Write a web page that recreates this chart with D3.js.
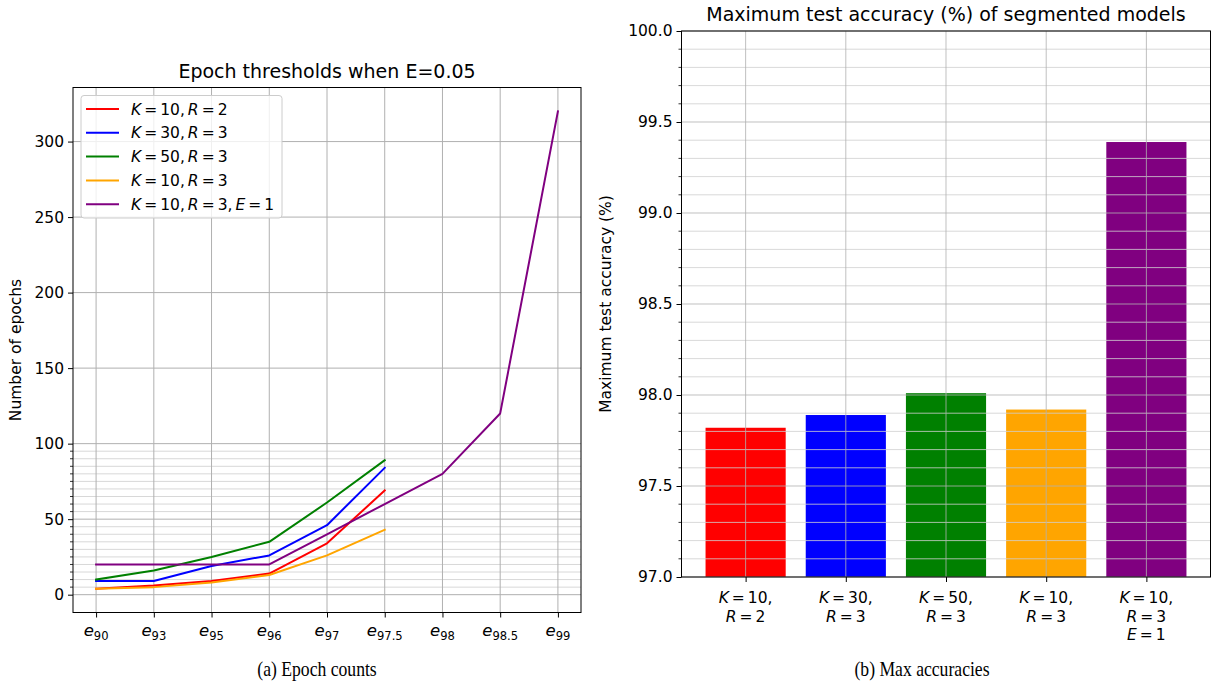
<!DOCTYPE html>
<html>
<head>
<meta charset="utf-8">
<script src="https://cdn.jsdelivr.net/npm/d3@7"></script>
<style>
  html, body { margin: 0; padding: 0; background: #fff; }
  svg { display: block; }
  text { font-family: "DejaVu Sans", sans-serif; fill: #000; }
</style>
</head>
<body>
<svg id="fig" width="1217" height="688"></svg>
<script>
// ---- data ----------------------------------------------------------------
const thresholds = ["90", "93", "95", "96", "97", "97.5", "98", "98.5", "99"];

const seriesNames  = ["K=10,R=2", "K=30,R=3", "K=50,R=3", "K=10,R=3", "K=10,R=3,E=1"];
const seriesColors = ["#ff0000", "#0000ff", "#008000", "#ffa500", "#800080"];

// epochs needed to reach each accuracy threshold
const epochsK10R2   = [4, 6, 9, 14, 34, 69];
const epochsK30R3   = [9, 9, 19, 26, 46, 84];
const epochsK50R3   = [10, 16, 25, 35, 61, 89];
const epochsK10R3   = [4, 5, 8, 13, 26, 43];
const epochsK10R3E1 = [20, 20, 20, 20, 40, 60, 80, 120, 320];
const epochSeries = [epochsK10R2, epochsK30R3, epochsK50R3, epochsK10R3, epochsK10R3E1];

const epochTicks = [0, 50, 100, 150, 200, 250, 300];
const epochMinorTicks = d3.range(5, 100, 5).filter(v => v % 50 !== 0);

// maximum test accuracy (%) per model
const modelLabels = [["K=10,", "R=2"], ["K=30,", "R=3"], ["K=50,", "R=3"], ["K=10,", "R=3"], ["K=10,", "R=3", "E=1"]];
const maxAccuracy = [97.82, 97.89, 98.01, 97.92, 99.39];

const accTicks = [97.0, 97.5, 98.0, 98.5, 99.0, 99.5, 100.0];
const accMinorTicks = d3.range(97.1, 100.0, 0.1).map(v => +v.toFixed(1)).filter(v => Math.abs(v * 2 - Math.round(v * 2)) > 1e-6);

// ---- styling ---------------------------------------------------------------
const FS = 15.5;          // tick / label font size
const TITLE_FS = 19;
const CAP_FS = 21.5;
const CAP_SX = 0.82;      // captions are set in a narrow serif
const MAJOR_GRID = "#b0b0b0";
const MINOR_GRID = "#d8d8d8";

const svg = d3.select("#fig");

// mathtext-like label: letters italic, spacing around "=" and after ","
function mathText(sel, s, gap) {
  let pending = 0;
  for (const c of s) {
    const t = sel.append("tspan").text(c);
    if (/[A-Za-z]/.test(c)) t.attr("font-style", "italic");
    const dx = pending + (c === "=" ? gap : 0);
    if (dx) t.attr("dx", dx);
    pending = (c === "=" || c === ",") ? gap : 0;
  }
  return sel;
}

// ---- (a) epoch thresholds --------------------------------------------------
const A = { x0: 73, x1: 581, y0: 87.5, y1: 612.5 };
const xA = d3.scaleLinear().domain([-0.4, thresholds.length - 1 + 0.4]).range([A.x0, A.x1]);
const yA = d3.scaleLinear().domain([-11.8, 335.8]).range([A.y1, A.y0]);

const gA = svg.append("g");

// grid
gA.append("g").selectAll("line").data(epochMinorTicks).join("line")
  .attr("x1", A.x0).attr("x2", A.x1)
  .attr("y1", d => yA(d)).attr("y2", d => yA(d))
  .attr("stroke", MINOR_GRID).attr("stroke-width", 1);
gA.append("g").selectAll("line").data(epochTicks).join("line")
  .attr("x1", A.x0).attr("x2", A.x1)
  .attr("y1", d => yA(d)).attr("y2", d => yA(d))
  .attr("stroke", MAJOR_GRID).attr("stroke-width", 1);
gA.append("g").selectAll("line").data(thresholds).join("line")
  .attr("x1", (d, i) => xA(i)).attr("x2", (d, i) => xA(i))
  .attr("y1", A.y0).attr("y2", A.y1)
  .attr("stroke", MAJOR_GRID).attr("stroke-width", 1);

// series lines
const lineA = d3.line().x((d, i) => xA(i)).y(d => yA(d));
epochSeries.forEach((vals, k) => {
  gA.append("path").datum(vals)
    .attr("d", lineA)
    .attr("fill", "none")
    .attr("stroke", seriesColors[k])
    .attr("stroke-width", 2)
    .attr("stroke-linejoin", "round")
    .attr("stroke-linecap", "square");
});

// axes
const yAxisA = d3.axisLeft(yA).tickValues(epochTicks).tickSize(5).tickPadding(4);
gA.append("g").attr("transform", `translate(${A.x0},0)`).call(yAxisA)
  .call(g => g.select(".domain").remove())
  .call(g => g.selectAll("text").attr("font-size", FS).attr("font-family", "DejaVu Sans"));
gA.append("g").selectAll("line").data(epochMinorTicks).join("line")
  .attr("x1", A.x0 - 3).attr("x2", A.x0)
  .attr("y1", d => yA(d)).attr("y2", d => yA(d))
  .attr("stroke", "#000").attr("stroke-width", 0.8);

const xAxisA = d3.axisBottom(xA).tickValues(d3.range(thresholds.length)).tickSize(5).tickFormat("");
gA.append("g").attr("transform", `translate(0,${A.y1})`).call(xAxisA)
  .call(g => g.select(".domain").remove());

thresholds.forEach((t, i) => {
  const txt = gA.append("text")
    .attr("x", xA(i)).attr("y", 636)
    .attr("text-anchor", "middle")
    .attr("font-size", FS + 1);
  txt.append("tspan").attr("font-style", "italic").text("e");
  txt.append("tspan").attr("font-size", (FS + 1) * 0.7).attr("dy", 4).text(t);
});

gA.append("rect")
  .attr("x", A.x0).attr("y", A.y0).attr("width", A.x1 - A.x0).attr("height", A.y1 - A.y0)
  .attr("fill", "none").attr("stroke", "#000").attr("stroke-width", 1);

gA.append("text")
  .attr("transform", `translate(21,${(A.y0 + A.y1) / 2}) rotate(-90)`)
  .attr("text-anchor", "middle").attr("font-size", FS)
  .text("Number of epochs");

gA.append("text")
  .attr("x", (A.x0 + A.x1) / 2).attr("y", 78)
  .attr("text-anchor", "middle").attr("font-size", TITLE_FS)
  .text("Epoch thresholds when E=0.05");

// legend
const leg = gA.append("g");
leg.append("rect")
  .attr("x", 81).attr("y", 95.5).attr("width", 201).attr("height", 122.5).attr("rx", 3)
  .attr("fill", "#fff").attr("fill-opacity", 0.8)
  .attr("stroke", "#cccccc").attr("stroke-width", 1);
seriesNames.forEach((name, k) => {
  const y = 109 + k * 23.8;
  leg.append("line")
    .attr("x1", 86).attr("x2", 119).attr("y1", y).attr("y2", y)
    .attr("stroke", seriesColors[k]).attr("stroke-width", 2);
  const t = leg.append("text").attr("x", 131).attr("y", y + 5.5).attr("font-size", FS);
  mathText(t, name, 3);
});

// ---- (b) max accuracies ----------------------------------------------------
const B = { x0: 681.5, x1: 1210.5, y0: 31, y1: 577 };
const xB = d3.scaleLinear().domain([-0.64, maxAccuracy.length - 1 + 0.64]).range([B.x0, B.x1]);
const yB = d3.scaleLinear().domain([97, 100]).range([B.y1, B.y0]);
const barW = 0.8;

const gB = svg.append("g");

gB.append("g").selectAll("rect").data(maxAccuracy).join("rect")
  .attr("x", (d, i) => xB(i - barW / 2))
  .attr("width", (d, i) => xB(i + barW / 2) - xB(i - barW / 2))
  .attr("y", d => yB(d))
  .attr("height", d => yB(97) - yB(d))
  .attr("fill", (d, i) => seriesColors[i]);

// grid sits above the bars
gB.append("g").selectAll("line").data(accMinorTicks).join("line")
  .attr("x1", B.x0).attr("x2", B.x1)
  .attr("y1", d => yB(d)).attr("y2", d => yB(d))
  .attr("stroke", "#d0d0d0").attr("stroke-opacity", 0.8).attr("stroke-width", 1);
gB.append("g").selectAll("line").data(accTicks).join("line")
  .attr("x1", B.x0).attr("x2", B.x1)
  .attr("y1", d => yB(d)).attr("y2", d => yB(d))
  .attr("stroke", MAJOR_GRID).attr("stroke-opacity", 0.8).attr("stroke-width", 1);
gB.append("g").selectAll("line").data(maxAccuracy).join("line")
  .attr("x1", (d, i) => xB(i)).attr("x2", (d, i) => xB(i))
  .attr("y1", B.y0).attr("y2", B.y1)
  .attr("stroke", MAJOR_GRID).attr("stroke-opacity", 0.8).attr("stroke-width", 1);

const yAxisB = d3.axisLeft(yB).tickValues(accTicks).tickFormat(d3.format(".1f")).tickSize(5).tickPadding(4);
gB.append("g").attr("transform", `translate(${B.x0},0)`).call(yAxisB)
  .call(g => g.select(".domain").remove())
  .call(g => g.selectAll("text").attr("font-size", FS).attr("font-family", "DejaVu Sans"));
gB.append("g").selectAll("line").data(accMinorTicks).join("line")
  .attr("x1", B.x0 - 3).attr("x2", B.x0)
  .attr("y1", d => yB(d)).attr("y2", d => yB(d))
  .attr("stroke", "#000").attr("stroke-width", 0.8);

const xAxisB = d3.axisBottom(xB).tickValues(d3.range(maxAccuracy.length)).tickSize(5).tickFormat("");
gB.append("g").attr("transform", `translate(0,${B.y1})`).call(xAxisB)
  .call(g => g.select(".domain").remove());

modelLabels.forEach((lines, i) => {
  lines.forEach((ln, j) => {
    const t = gB.append("text")
      .attr("x", xB(i)).attr("y", 603 + j * 18.5)
      .attr("text-anchor", "middle").attr("font-size", FS);
    mathText(t, ln, 3);
  });
});

gB.append("rect")
  .attr("x", B.x0).attr("y", B.y0).attr("width", B.x1 - B.x0).attr("height", B.y1 - B.y0)
  .attr("fill", "none").attr("stroke", "#000").attr("stroke-width", 1);

gB.append("text")
  .attr("transform", `translate(611,${(B.y0 + B.y1) / 2}) rotate(-90)`)
  .attr("text-anchor", "middle").attr("font-size", FS)
  .text("Maximum test accuracy (%)");

gB.append("text")
  .attr("x", (B.x0 + B.x1) / 2).attr("y", 21)
  .attr("text-anchor", "middle").attr("font-size", TITLE_FS)
  .text("Maximum test accuracy (%) of segmented models");

// ---- sub-figure captions ---------------------------------------------------
[["(a) Epoch counts", 317], ["(b) Max accuracies", 922]].forEach(([label, cx]) => {
  svg.append("text")
    .attr("transform", `translate(${cx},676) scale(${CAP_SX},1)`)
    .attr("text-anchor", "middle").attr("font-size", CAP_FS)
    .style("font-family", "'Liberation Serif', serif")
    .text(label);
});
</script>
</body>
</html>
